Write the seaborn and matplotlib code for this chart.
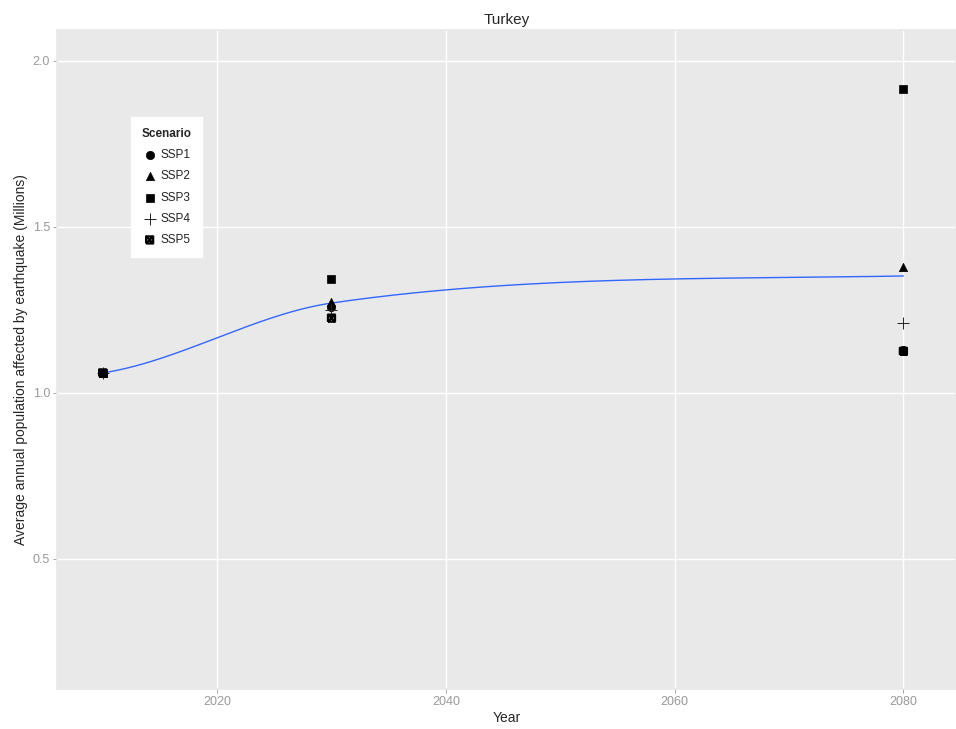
import seaborn as sns
import matplotlib.pyplot as plt
import matplotlib.path as mpath
import pandas as pd
import numpy as np

# Data
years = [2010, 2030, 2080]
ssp1 = [1.060, 1.260, 1.130]
ssp2 = [1.060, 1.275, 1.380]
ssp3 = [1.060, 1.342, 1.915]
ssp4 = [1.060, 1.250, 1.210]
ssp5 = [1.060, 1.225, 1.125]
scenarios = ["SSP1", "SSP2", "SSP3", "SSP4", "SSP5"]

df = pd.DataFrame({
    "Year": years * 5,
    "Scenario": np.repeat(scenarios, len(years)),
    "Value": ssp1 + ssp2 + ssp3 + ssp4 + ssp5,
})

# square with an X inside (ggplot shape 7)
verts = [(-1, -1), (1, -1), (1, 1), (-1, 1), (-1, -1),
         (-1, -1), (1, 1), (-1, 1), (1, -1)]
codes = [mpath.Path.MOVETO] + [mpath.Path.LINETO] * 4 + \
        [mpath.Path.MOVETO, mpath.Path.LINETO, mpath.Path.MOVETO, mpath.Path.LINETO]
box_x = mpath.Path(verts, codes)

markers = {"SSP1": "o", "SSP2": "^", "SSP3": "s", "SSP4": "+", "SSP5": box_x}


def smooth_curve(x, y, xs):
    # cubic hermite through the yearly means (rough stand-in for loess)
    x = np.asarray(x, float)
    y = np.asarray(y, float)
    h = np.diff(x)
    d = np.diff(y) / h
    m = np.zeros_like(y)
    for k in range(1, len(x) - 1):
        m[k] = 0.4 * d[k - 1] + 0.5 * d[k]
    m[0] = 0.5 * d[0]
    m[-1] = 0.37 * d[-1]
    out = np.empty_like(xs)
    for i, xv in enumerate(xs):
        k = min(np.searchsorted(x, xv, side="right") - 1, len(x) - 2)
        t = (xv - x[k]) / h[k]
        h00 = 2 * t**3 - 3 * t**2 + 1
        h10 = t**3 - 2 * t**2 + t
        h01 = -2 * t**3 + 3 * t**2
        h11 = t**3 - t**2
        out[i] = h00 * y[k] + h10 * h[k] * m[k] + h01 * y[k + 1] + h11 * h[k] * m[k + 1]
    return out


means = df.groupby("Year")["Value"].mean()
xs = np.linspace(years[0], years[-1], 200)
smooth = pd.DataFrame({"Year": xs, "Value": smooth_curve(means.index.values, means.values, xs)})

sns.set_theme(style="darkgrid", rc={
    "axes.facecolor": "#e9e9e9",
    "grid.color": "white",
    "axes.edgecolor": "#e9e9e9",
})
plt.rcParams["font.family"] = ["Liberation Sans", "DejaVu Sans"]

fig = plt.figure(figsize=(9.56, 7.29), dpi=100)
ax = fig.add_axes([0.0596, 0.0549, 0.9404, 0.904])

sns.lineplot(data=smooth, x="Year", y="Value", color="#3366ff", linewidth=1.0, ax=ax, zorder=2)
for name in scenarios:
    sub = df[df["Scenario"] == name]
    mk = markers[name]
    if name == "SSP4":
        sns.scatterplot(data=sub, x="Year", y="Value", marker=mk, color="#222222",
                        linewidth=0.7, s=70, ax=ax, zorder=3, label=name)
    elif name == "SSP5":
        sns.scatterplot(data=sub, x="Year", y="Value", marker=mk, color="black",
                        edgecolor="black", facecolor="none", linewidth=1.6, s=26,
                        ax=ax, zorder=4, label=name)
    else:
        sns.scatterplot(data=sub, x="Year", y="Value", marker=mk, color="black",
                        edgecolor="black", linewidth=0.5, s=36, ax=ax, zorder=3, label=name)

ax.set_xlim(2006.0, 2084.6)
ax.set_ylim(0.108, 2.093)
ax.set_xticks([2020, 2040, 2060, 2080])
ax.set_yticks([0.5, 1.0, 1.5, 2.0])
ax.set_yticklabels(["0.5", "1.0", "1.5", "2.0"])
ax.grid(which="major", color="white", linewidth=1.0)
ax.tick_params(which="major", axis="both", length=3, width=0.6, color="#999999",
               labelcolor="#999999", labelsize=9, direction="out", bottom=True, left=True, pad=2)

ax.set_title("Turkey", fontsize=11, pad=4)
ax.set_xlabel("Year", fontsize=10, labelpad=2)
ax.set_ylabel("Average annual population affected by earthquake (Millions)", fontsize=10, labelpad=3)

leg = ax.legend(title="Scenario", loc="upper left", bbox_to_anchor=(0.086, 0.862),
                frameon=True, fontsize=8.5, title_fontsize=8.5, handletextpad=0.2,
                borderpad=0.6, labelspacing=0.78, handlelength=1.4, borderaxespad=0)
leg.get_title().set_fontweight("bold")
leg.get_frame().set_facecolor("white")
leg.get_frame().set_edgecolor("white")
leg.get_frame().set_boxstyle("square")
leg.get_frame().set_alpha(1)
leg._legend_box.align = "left"
for t in leg.get_texts():
    t.set_color("#222222")

plt.savefig("out.png", dpi=100)
